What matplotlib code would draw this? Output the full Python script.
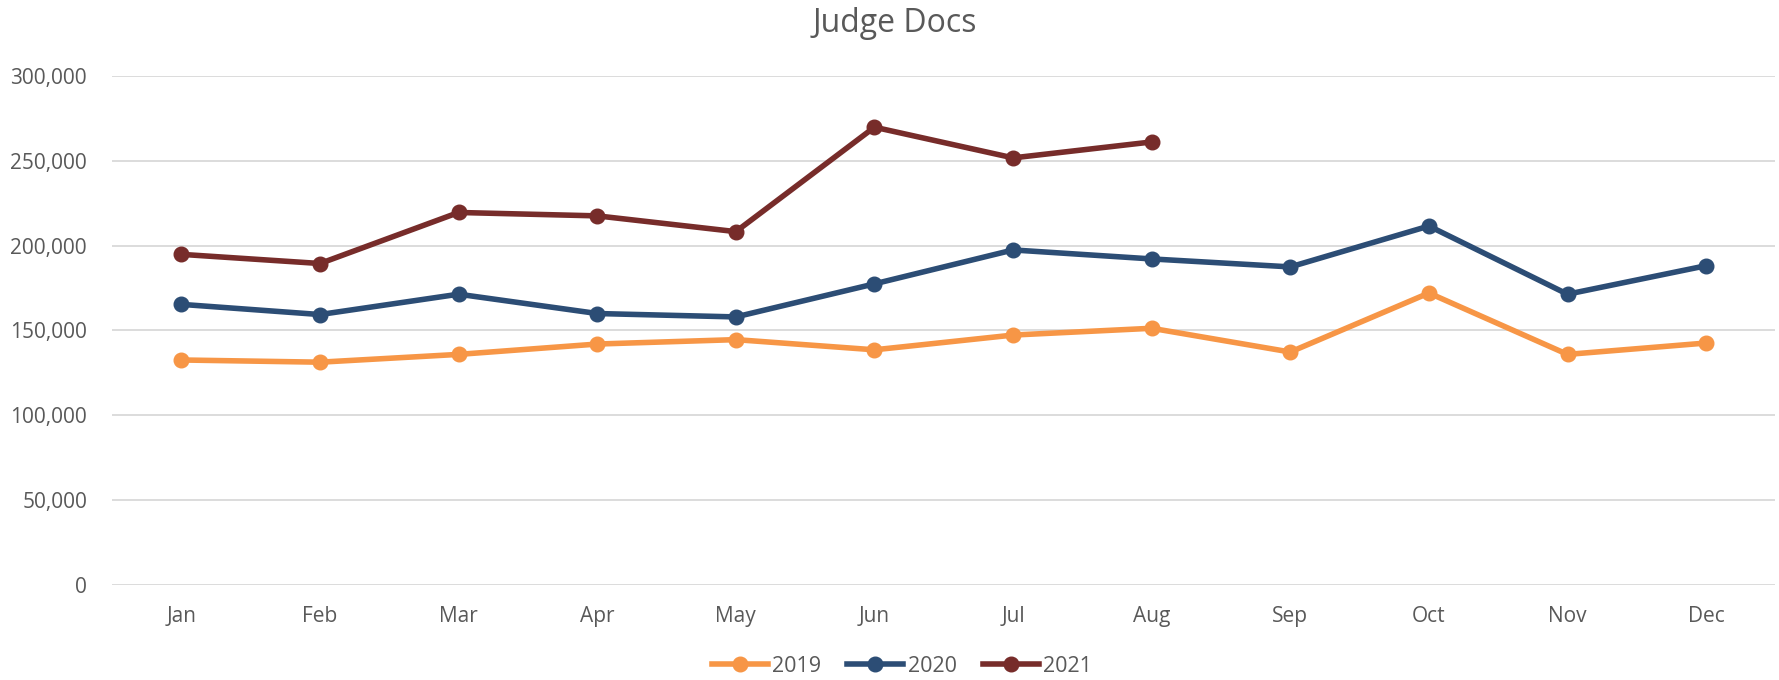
import matplotlib
matplotlib.use('Agg')
import matplotlib.pyplot as plt
from matplotlib.ticker import FuncFormatter

# data
months = ['Jan', 'Feb', 'Mar', 'Apr', 'May', 'Jun', 'Jul', 'Aug', 'Sep', 'Oct', 'Nov', 'Dec']
y2019 = [132600, 131300, 135900, 142000, 144600, 138600, 147300, 151300, 137300, 172100, 135900, 142600]
y2020 = [165400, 159400, 171400, 160000, 158000, 177500, 197500, 192200, 187500, 211600, 171400, 188200]
y2021 = [194900, 189500, 219600, 217600, 208300, 269900, 251800, 261200]

plt.rcParams['font.family'] = ['Open Sans', 'DejaVu Sans']
txt = '#595959'

fig = plt.figure(figsize=(17.79, 6.8), dpi=100)
ax = fig.add_axes([0.063, 0.14, 0.935, 0.748])

x = list(range(len(months)))
ax.plot(x, y2019, color='#F79646', lw=4, marker='o', ms=10.5, label='2019')
ax.plot(x, y2020, color='#2C4D75', lw=4, marker='o', ms=10.5, label='2020')
ax.plot(x[:len(y2021)], y2021, color='#772C2A', lw=4, marker='o', ms=10.5, label='2021')

ax.set_ylim(0, 300000)
ax.set_xlim(-0.5, 11.5)
ax.set_yticks(range(0, 300001, 50000))
ax.yaxis.set_major_formatter(FuncFormatter(lambda v, p: '{:,.0f}'.format(v)))
ax.set_xticks(x)
ax.set_xticklabels(months)
ax.grid(axis='y', color='#D9D9D9', lw=1.3)
ax.set_axisbelow(True)
for s in ax.spines.values():
    s.set_visible(False)
ax.tick_params(length=0, labelsize=15, colors=txt, pad=15)
ax.tick_params(axis='y', pad=18)

fig.suptitle('Judge Docs', x=0.503, y=0.99, fontsize=23, color=txt)
fig.legend(loc='center', bbox_to_anchor=(0.507, 0.02), ncol=3, frameon=False,
           fontsize=15.5, labelcolor=txt, handlelength=2.6, columnspacing=1.2, handletextpad=0.2)

fig.savefig('out.png', dpi=100)
